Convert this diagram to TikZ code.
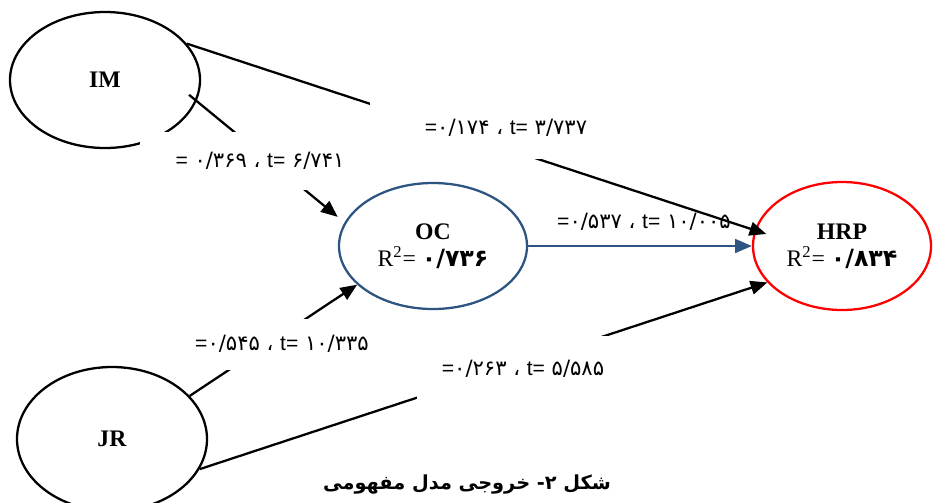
\documentclass[tikz,border=0pt]{standalone}
\usepackage{fontspec}
\usepackage{xcolor}
\setmainfont{Liberation Serif}
\setsansfont{Liberation Sans}
\newfontfamily\fanum[Script=Arabic]{DejaVu Sans}
\TeXXeTstate=1
\usetikzlibrary{arrows.meta,calc,shapes.geometric}

\definecolor{ocblue}{RGB}{46,84,130}

\begin{document}
\begin{tikzpicture}[
		font=\fontsize{13.5}{15.5}\selectfont,
		latent/.style={draw, ellipse, line width=1.3pt, inner sep=0pt, align=center, minimum width=3.8cm, minimum height=2.72cm},
		coef/.style={fill=white, inner sep=0pt, font=\fanum\fontsize{12}{14}\selectfont},
		link/.style={line width=1.3pt, -{Triangle[length=9.5pt,width=7.8pt]}},
		bluelink/.style={link, draw=ocblue, -{Triangle[length=9.5pt,width=7.8pt,fill=ocblue]}}
		]
		\useasboundingbox (0,0) rectangle (18.66,-10.04);

		% constructs
		\node[latent] (im) at (2.10,-1.60) {\textbf{IM}};
		\node[latent, minimum height=2.88cm] (jr) at (2.24,-8.78) {\textbf{JR}};
		\node[latent, draw=ocblue, minimum width=3.76cm, minimum height=2.52cm] (oc) at (8.66,-4.92)
		{\textbf{OC}\\R\textsuperscript{2}= {\fanum\bfseries ۰/۷۳۶}};
		\node[latent, draw=red, minimum width=3.56cm, minimum height=2.56cm] (hrp) at (16.84,-4.92)
		{\textbf{HRP}\\R\textsuperscript{2}= {\fanum\bfseries ۰/۸۳۴}};

		% paths
		\draw[link] (im.24) -- ($(hrp.center)!0.86!(hrp.171)$);
		\draw[link] ($(im.center)!0.9!(im.-10)$) -- ($(oc.center)!1.1!(oc.163)$);
		\draw[link] (jr.29) -- (oc.207);
		\draw[link] (jr.-19) -- (hrp.206);
		\draw[bluelink] (oc.east) -- (hrp.west);

		% path coefficients (white boxes break the lines)
		\node[coef, minimum width=4.8cm, minimum height=1.16cm] (imoc) at (5.20,-3.22) {\textsf{=} ۰/۳۶۹ ، \textsf{t=} ۶/۷۴۱};
		\node[coef, minimum width=5.44cm, minimum height=1.24cm] (imhrp) at (10.12,-2.56) {\textsf{=}۰/۱۷۴ ، \textsf{t=} ۳/۷۳۷};
		\node[coef, fill=none] (ochrp) at (12.88,-4.44) {\textsf{=}۰/۵۳۷ ، \textsf{t=} ۱۰/۰۰۵};
		\node[coef, minimum width=4.4cm, minimum height=1.02cm] (jroc) at (5.64,-6.88) {\textsf{=}۰/۵۴۵ ، \textsf{t=} ۱۰/۳۳۵};
		\node[coef, minimum width=4.26cm, minimum height=1.32cm] (jrhrp) at (10.46,-7.38) {\textsf{=}۰/۲۶۳ ، \textsf{t=} ۵/۵۸۵};

		\node[font=\fanum\bfseries\fontsize{11}{13}\selectfont] (caption) at (9.34,-9.70)
		{\beginR شکل ۲- خروجی مدل مفهومی\endR};
	\end{tikzpicture}
\end{document}
